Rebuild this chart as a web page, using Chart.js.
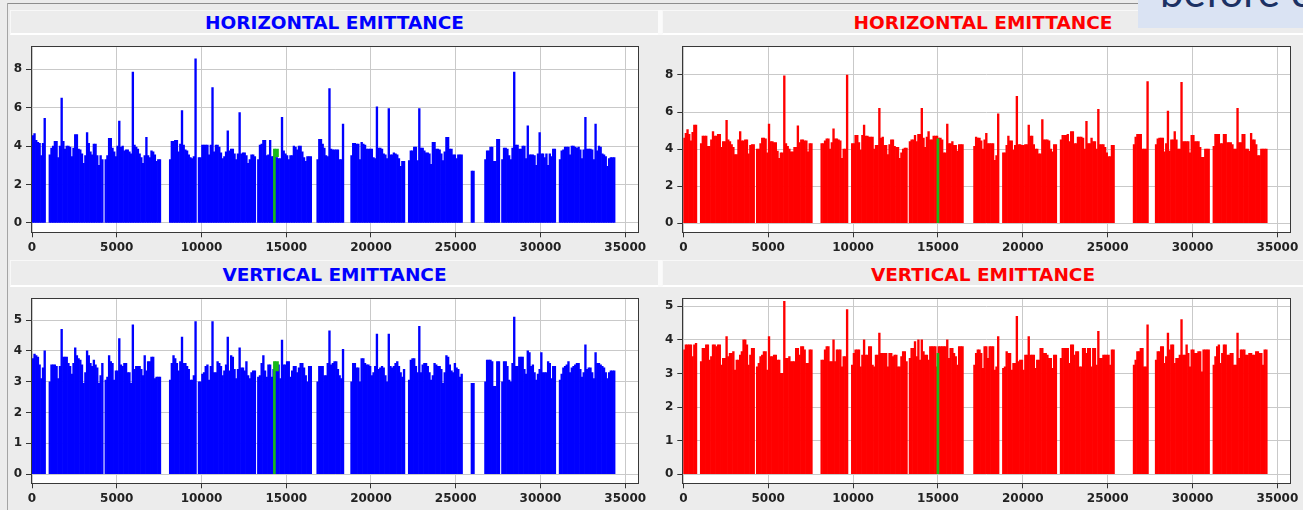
<!DOCTYPE html>
<html>
<head>
<meta charset="utf-8">
<title>Emittance per bunch</title>
<script src="https://cdn.jsdelivr.net/npm/chart.js@4.4.1/dist/chart.umd.min.js"></script>
<style>
  html, body { margin: 0; padding: 0; }
  body {
    width: 1303px; height: 510px; position: relative; overflow: hidden;
    background: #ececec; font-family: 'DejaVu Sans', sans-serif;
  }
  .frame-top { position: absolute; left: 7px; top: 3px; width: 1296px; height: 1px; background: #8e8e8e; }
  .frame-left { position: absolute; left: 7px; top: 3px; width: 1px; height: 507px; background: #a4a4a4; }
  .title {
    position: absolute; box-sizing: border-box; text-align: center;
    font-weight: bold; font-size: 18.5px; background: #ececec;
    border-top: 1px solid #f8f8f8; border-left: 1px solid #f8f8f8;
    border-bottom: 2px solid #ffffff;
  }
  .title.blue { color: #0000ff; }
  .title.red { color: #ff0000; }
  .sep { position: absolute; width: 4px; background: #fbfbfb; }
  canvas { position: absolute; }
  .note { position: absolute; left: 1138px; top: 0; width: 165px; height: 28px; background: #dae3f3; overflow: hidden; }
</style>
</head>
<body>
<div class="frame-top"></div>
<div class="frame-left"></div>

<div class="title blue" style="left:10px; top:10px; width:648px; height:25px; line-height:23px;">HORIZONTAL EMITTANCE</div>
<div class="title red" style="left:662px; top:10px; width:641px; height:25px; line-height:23px;">HORIZONTAL EMITTANCE</div>
<div class="sep" style="left:658px; top:10px; height:25px;"></div>
<div class="title blue" style="left:10px; top:260px; width:648px; height:27px; line-height:27px;">VERTICAL EMITTANCE</div>
<div class="title red" style="left:662px; top:260px; width:641px; height:27px; line-height:27px;">VERTICAL EMITTANCE</div>
<div class="sep" style="left:658px; top:260px; height:27px;"></div>

<canvas id="hBlue" width="652" height="224" style="left:0px; top:36px;"></canvas>
<canvas id="hRed" width="652" height="224" style="left:651px; top:36px;"></canvas>
<canvas id="vBlue" width="652" height="222" style="left:0px; top:288px;"></canvas>
<canvas id="vRed" width="652" height="222" style="left:651px; top:288px;"></canvas>

<div class="note">
  <svg width="165" height="28" xmlns="http://www.w3.org/2000/svg">
    <text x="22" y="7" font-family="Lato, 'Open Sans', sans-serif" font-size="42" fill="#1c3163">before c</text>
  </svg>
</div>

<script>
// Gap in the fill pattern (empty bunch slot)
const _ = null;

// Bunch slots are 100 units apart along the ring; value per slot, null = empty
const BUNCH_SPACING = 100;
const SLOT_COUNT = 344;

// Horizontal emittance, left (blue) display
const hEmittanceBlue = [
  4.55, 4.65, 4.3, 4.2, 4.15, 3.5, 4.15, 5.45, _, _,
  3.55, 3.9, 4.0, 4.25, 4.25, 3.4, 4.0, 6.5, 4.25, 3.85, 4.0, 4.0, 3.95, 3.45, 3.9, 4.6,
  4.6, 3.85, 3.8, 3.6, 3.1, 3.5, 4.7, 4.15, 3.7, 3.55, 4.1, 4.1, 3.5, 3.0, 3.5, 3.3, _,
  3.3, 3.5, 4.4, 4.4, 3.9, 3.7, 3.45, 4.0, 5.3, 3.95, 4.0, 3.75, 3.8, 3.8, 3.7, 3.6, 7.85,
  4.05, 3.95, 3.85, 3.6, 3.4, 3.1, 3.5, 4.45, 3.5, 3.4, 3.75, 3.7, 3.55, 3.2, 3.3, 3.3, _, _, _, _, _,
  3.3, 4.25, 4.25, 4.3, 4.3, 3.7, 4.1, 5.85, 4.05, 3.8, 3.75, 3.55, 3.4, 3.35, 3.45, 8.55, _,
  3.4, 3.4, 4.05, 4.05, 4.05, 4.05, 3.55, 4.05, 7.05, 3.7, 4.05, 4.05, 3.95, 3.65, 3.35, 3.45, 3.7,
  4.8, 3.75, 3.85, 3.85, 3.6, 3.3, 3.6, 5.75, 3.6, 3.65, 3.65, 3.5, 3.1, 3.3, 3.55, 3.55, 3.45, _,
  3.3, 4.05, 4.1, 4.3, 4.3, 3.5, 3.55, 4.3, 3.45, 3.45, 3.45, 3.4, 3.35, 3.35, 5.5, 3.75,
  3.6, 3.5, 3.3, 3.5, 3.5, 4.0, 3.95, 3.8, 4.0, 4.0, 3.7, 3.4, 3.2, 3.45, 3.45, 3.45, _, _, _,
  3.3, 4.35, 4.35, 4.1, 3.9, 3.5, 3.45, 7.0, 3.85, 3.8, 3.8, 3.8, 3.8, 3.3, 3.3, 5.15, _, _, _, _,
  3.5, 4.15, 4.15, 4.1, 4.1, 3.3, 4.2, 4.1, 4.05, 3.85, 3.85, 3.85, 3.85, 3.4, 3.35, 6.05,
  3.9, 3.9, 3.85, 3.6, 3.55, 3.35, 5.95, 3.55, 3.55, 3.65, 3.6, 3.55, 3.35, 2.95, 3.2, 3.2, _, _,
  3.25, 3.75, 3.75, 3.95, 3.95, 3.25, 5.95, 3.9, 3.9, 3.75, 3.65, 3.65, 3.6, 3.05, 4.2, 4.2,
  3.85, 3.85, 3.8, 3.6, 3.25, 3.7, 4.45, 4.45, 3.85, 3.85, 3.55, 3.55, 3.35, 3.55, 3.55, 3.55, _, _, _, _, _,
  2.7, 2.7, _, _, _, _, _, _,
  3.3, 3.75, 3.75, 3.95, 3.95, 3.2, 3.2, 4.35, 4.35, _,
  3.3, 3.9, 3.9, 3.85, 3.5, 3.3, 3.9, 7.85, 4.05, 4.05, 3.85, 3.85, 4.0, 4.0, 3.35, 5.05,
  3.55, 3.55, 3.55, 3.5, 3.0, 3.6, 4.7, 3.6, 3.6, 3.4, 3.6, 3.0, 3.6, 3.45, 3.85, 3.85, _, _,
  3.3, 3.75, 3.8, 3.95, 3.95, 3.95, 3.55, 4.0, 4.0, 3.95, 3.9, 3.95, 3.8, 3.35, 3.8, 5.5, 3.85,
  3.85, 3.85, 3.8, 3.3, 5.15, 3.75, 4.0, 3.95, 3.6, 3.55, 3.45, 2.95, 3.35, 3.4, 3.4, 3.4
];

// Vertical emittance, left (blue) display
const vEmittanceBlue = [
  3.75, 3.9, 3.85, 3.8, 3.55, 3.1, 3.45, 4.0, _, _,
  3.0, 3.55, 3.55, 3.55, 3.5, 3.1, 3.5, 4.7, 3.8, 3.8, 3.8, 3.6, 3.5, 3.25, 3.6, 4.1,
  3.85, 3.75, 3.7, 3.55, 2.95, 3.3, 4.0, 3.85, 3.6, 3.5, 3.7, 3.55, 3.45, 2.95, 3.2, 3.6, _,
  3.05, 3.15, 3.85, 3.65, 3.6, 3.05, 3.35, 3.35, 4.4, 3.55, 3.5, 3.6, 3.6, 3.3, 3.3, 2.95, 4.85,
  3.4, 3.5, 3.5, 3.5, 3.4, 3.2, 3.85, 3.35, 3.65, 3.65, 3.8, 3.8, 3.1, 3.15, 3.15, 3.15, _, _, _, _, _,
  3.05, 3.6, 3.85, 3.75, 3.6, 3.35, 3.65, 4.45, 3.6, 3.6, 3.5, 3.4, 3.05, 3.05, 3.2, 4.95, _,
  3.0, 3.0, 3.25, 3.3, 3.5, 3.55, 3.05, 3.5, 4.95, 3.3, 3.3, 3.65, 3.6, 3.5, 3.2, 3.35, 3.55,
  4.45, 3.35, 3.85, 3.8, 3.4, 3.1, 3.4, 4.1, 3.45, 3.45, 3.35, 3.65, 3.2, 3.1, 3.3, 3.35, 3.35, _,
  3.15, 3.2, 3.6, 3.85, 3.35, 3.15, 3.55, 3.55, 3.15, 3.4, 3.4, 3.55, 3.55, 3.1, 4.35, 3.55,
  3.55, 3.65, 3.65, 3.15, 3.35, 3.5, 3.5, 3.3, 3.45, 3.6, 3.6, 3.45, 3.2, 3.0, 3.5, 3.5, _, _, _,
  3.0, 3.5, 3.5, 3.5, 3.2, 3.2, 3.6, 4.65, 3.55, 3.6, 3.65, 3.65, 3.4, 3.2, 3.1, 4.05, _, _, _, _,
  3.0, 3.6, 3.6, 3.45, 3.45, 3.0, 3.75, 3.75, 3.6, 3.55, 3.55, 3.5, 3.2, 3.3, 3.5, 4.55,
  3.4, 3.45, 3.5, 3.45, 3.2, 3.0, 4.55, 3.5, 3.45, 3.5, 3.6, 3.65, 3.5, 3.3, 3.15, 3.4, _, _,
  3.05, 3.7, 3.75, 3.75, 3.5, 3.3, 4.8, 3.3, 3.55, 3.6, 3.6, 3.5, 3.3, 3.05, 3.2, 3.6,
  3.55, 3.5, 3.5, 3.4, 2.95, 3.3, 3.85, 3.8, 3.55, 3.35, 3.3, 3.6, 3.45, 3.4, 3.15, 3.25, _, _, _, _, _,
  2.95, 2.95, _, _, _, _, _, _,
  3.0, 3.7, 3.7, 3.7, 3.65, 2.85, 2.85, 3.65, 3.65, _,
  3.0, 3.65, 3.65, 3.5, 3.05, 3.0, 3.6, 5.1, 3.5, 3.5, 3.8, 3.8, 3.8, 3.4, 3.25, 4.0,
  3.95, 3.5, 3.55, 3.3, 3.05, 3.25, 3.4, 3.95, 3.3, 3.3, 3.3, 3.65, 3.6, 3.1, 3.5, 3.5, _, _,
  3.05, 3.25, 3.45, 3.5, 3.55, 3.65, 3.3, 3.45, 3.5, 3.55, 3.6, 3.6, 3.4, 3.15, 3.3, 4.2, 3.4,
  3.45, 3.45, 3.3, 3.1, 3.95, 3.6, 3.6, 3.55, 3.5, 3.45, 3.3, 3.1, 3.3, 3.35, 3.35, 3.35
];

// Horizontal emittance, right (red) display
const hEmittanceRed = [
  4.6, 4.85, 5.05, 4.8, 4.45, 4.9, 5.3, 5.3, _, _,
  4.3, 4.7, 4.7, 4.7, 4.15, 4.15, 4.5, 4.95, 4.7, 4.7, 4.8, 4.8, 4.1, 4.4, 4.4, 5.55,
  4.5, 4.4, 4.25, 4.1, 3.7, 3.7, 4.5, 4.95, 4.45, 4.45, 4.5, 4.5, 3.75, 4.2, 4.25, 4.25, _,
  4.0, 4.0, 4.3, 4.6, 4.6, 4.55, 3.8, 5.35, 4.4, 4.4, 4.35, 4.35, 3.9, 3.5, 3.8, 3.8, 7.95,
  4.3, 4.15, 4.0, 3.85, 3.85, 4.1, 4.1, 5.25, 4.35, 4.5, 4.5, 4.45, 4.45, 3.85, 4.3, 4.3, _, _, _, _, _,
  4.3, 4.3, 4.45, 4.55, 4.55, 4.0, 4.35, 5.1, 4.55, 4.55, 4.5, 4.45, 3.5, 4.0, 4.0, 8.0, _, _,
  4.3, 4.3, 4.75, 4.75, 4.35, 3.95, 4.75, 5.3, 4.7, 4.7, 4.65, 4.65, 4.65, 4.0, 4.2, 4.2, 6.2,
  4.6, 4.65, 4.2, 4.2, 3.7, 4.25, 4.5, 4.5, 4.15, 4.1, 4.1, 3.5, 3.8, 4.0, 4.05, 4.05, _,
  4.4, 4.5, 4.5, 4.75, 4.4, 4.8, 4.8, 6.2, 4.6, 4.1, 4.65, 4.95, 4.5, 4.5, 4.7, 4.7,
  4.7, 4.6, 4.6, 4.5, 3.8, 3.8, 5.35, 4.3, 4.3, 4.4, 4.2, 4.2, 3.9, 4.25, 4.25, 4.25, _, _, _, _, _, _,
  4.15, 4.65, 4.6, 4.6, 4.45, 4.0, 4.5, 4.85, 4.3, 4.3, 4.3, 4.3, 3.4, 3.65, 5.9, _, _,
  3.8, 3.8, 4.2, 4.7, 4.45, 4.45, 3.95, 4.2, 6.85, 4.25, 4.25, 4.2, 4.2, 4.25, 4.25, 5.3,
  4.7, 4.7, 4.25, 4.0, 4.0, 3.75, 3.75, 5.6, 4.5, 4.5, 4.5, 4.45, 4.0, 3.85, 4.25, 4.25, _, _,
  4.5, 4.75, 4.75, 4.75, 4.8, 4.4, 4.95, 4.95, 4.3, 4.3, 4.65, 4.65, 4.65, 4.6, 4.0, 5.5,
  4.3, 4.3, 4.6, 4.4, 4.4, 4.0, 6.15, 4.25, 4.25, 4.25, 4.1, 3.8, 3.6, 3.6, 4.2, 4.2,
  _, _, _, _, _, _, _, _, _, _, _,
  4.25, 4.65, 4.8, 4.8, 4.8, 4.0, 4.0, 4.0, 7.65, _, _, _, _,
  4.25, 4.55, 4.6, 4.6, 4.6, 3.85, 4.3, 6.05, 3.9, 4.5, 4.5, 4.95, 4.5, 4.0, 4.0, 7.6,
  4.4, 4.4, 4.4, 4.4, 3.8, 4.75, 4.75, 4.4, 4.4, 4.4, 4.1, 3.55, 3.55, 4.0, 4.0, 4.0, _, _,
  4.15, 4.8, 4.8, 4.8, 4.3, 4.3, 4.8, 4.8, 4.35, 4.35, 4.35, 4.25, 4.0, 4.0, 6.2, 4.35,
  4.35, 4.8, 4.8, 4.0, 4.0, 3.9, 4.85, 4.5, 4.5, 4.25, 3.65, 3.65, 4.0, 4.0, 4.0, 4.0
];

// Vertical emittance, right (red) display
const vEmittanceRed = [
  3.7, 3.85, 3.85, 3.85, 3.85, 3.5, 3.85, 3.9, _, _,
  3.35, 3.75, 3.75, 3.85, 3.85, 3.4, 3.5, 3.85, 3.85, 3.8, 3.85, 3.85, 3.25, 3.45, 3.45, 4.1,
  3.5, 3.6, 3.6, 3.65, 3.1, 3.4, 3.4, 3.55, 3.65, 4.0, 4.0, 3.85, 3.25, 3.55, 3.75, 3.75, _,
  3.2, 3.3, 3.5, 3.55, 3.65, 3.65, 3.1, 4.1, 3.5, 3.5, 3.55, 3.55, 3.4, 3.4, 3.0, 3.0, 5.15,
  3.45, 3.45, 3.5, 3.35, 3.35, 3.35, 3.75, 3.75, 3.55, 3.8, 3.8, 3.7, 3.3, 3.3, 3.7, 3.7, _, _, _, _, _,
  3.4, 3.4, 3.7, 3.8, 3.8, 3.35, 3.35, 4.0, 3.35, 3.7, 3.7, 3.7, 3.2, 3.5, 3.5, 4.9, _, _,
  3.25, 3.6, 3.7, 3.7, 3.7, 3.2, 3.55, 4.0, 3.55, 3.55, 3.8, 3.8, 3.25, 3.2, 3.55, 3.55, 4.2,
  3.6, 3.6, 3.6, 3.6, 3.2, 3.6, 3.6, 3.5, 3.55, 3.55, 3.2, 3.2, 3.5, 3.65, 3.65, 3.35, _,
  3.45, 3.75, 3.75, 3.95, 3.5, 4.0, 3.4, 4.0, 3.65, 3.55, 3.55, 3.4, 3.8, 3.8, 3.8, 3.8,
  3.2, 3.8, 3.8, 3.8, 3.8, 3.8, 4.0, 3.45, 3.75, 3.75, 3.6, 3.5, 3.25, 3.8, 3.8, 3.8, _, _, _, _, _, _,
  3.25, 3.6, 3.7, 3.7, 3.6, 3.15, 3.8, 3.8, 3.45, 3.8, 3.8, 3.8, 3.1, 3.2, 4.1, _, _,
  3.15, 3.2, 3.65, 3.6, 3.6, 3.1, 3.3, 3.3, 4.7, 3.35, 3.4, 3.4, 3.1, 3.55, 3.55, 4.1,
  3.55, 3.55, 3.55, 3.15, 3.4, 3.4, 3.75, 3.75, 3.6, 3.6, 3.55, 3.45, 3.45, 3.15, 3.55, 3.55, _, _,
  3.45, 3.75, 3.75, 3.75, 3.75, 3.3, 3.85, 3.85, 3.55, 3.65, 3.65, 3.2, 3.2, 3.75, 3.75, 3.6,
  3.75, 3.75, 3.2, 3.75, 3.75, 3.25, 4.25, 3.45, 3.45, 3.55, 3.55, 3.55, 3.55, 3.25, 3.7, 3.7,
  _, _, _, _, _, _, _, _, _, _, _,
  3.25, 3.4, 3.65, 3.65, 3.75, 3.75, 3.2, 3.2, 4.45, _, _, _, _,
  3.4, 3.65, 3.65, 3.8, 3.8, 3.3, 3.5, 4.2, 3.7, 3.85, 3.85, 3.3, 3.45, 3.45, 3.55, 4.6,
  3.55, 3.55, 3.85, 3.6, 3.2, 3.7, 3.7, 3.6, 3.6, 3.65, 3.65, 3.05, 3.7, 3.7, 3.7, 3.7, _, _,
  3.25, 3.5, 3.8, 3.85, 3.3, 3.6, 3.85, 3.85, 3.55, 3.55, 3.6, 3.6, 3.25, 3.25, 4.2, 3.45,
  3.7, 3.7, 3.7, 3.55, 3.55, 3.6, 3.6, 3.55, 3.55, 3.65, 3.65, 3.6, 3.6, 3.25, 3.7, 3.7
];

// Selected-bunch markers (green): bunch position, value, and the highlighted top segment
const blueMarkerBunch = 14300;
const blueMarkerCapBunch = 14440;
const blueMarkerH = [3.85, 3.45];   // [top, cap bottom]
const blueMarkerV = [3.65, 3.35];
const redMarkerBunch = 15000;
const redMarkerH = 4.55;
const redMarkerV = 3.6;

// Axis ticks
const xTicks = [0, 5000, 10000, 15000, 20000, 25000, 30000, 35000];
const yTicksH = [0, 2, 4, 6, 8];
const yTicksV = [0, 1, 2, 3, 4, 5];

const MARKER_GREEN = '#19b919';
const TICK_FONT = { family: "'DejaVu Sans', sans-serif", size: 12, weight: 'bold' };

[hEmittanceBlue, vEmittanceBlue, hEmittanceRed, vEmittanceRed].forEach((arr, k) => {
  if (arr.length !== SLOT_COUNT) throw new Error('series ' + k + ' has ' + arr.length + ' slots');
});

const bunchCentres = hEmittanceBlue.map((v, i) => i * BUNCH_SPACING + BUNCH_SPACING / 2);

// White plot background and dark frame around the plot area
const plotFrame = {
  id: 'plotFrame',
  beforeDraw(chart) {
    const { ctx, chartArea: a } = chart;
    ctx.save();
    ctx.fillStyle = '#ffffff';
    ctx.fillRect(a.left, a.top, a.right - a.left, a.bottom - a.top);
    ctx.restore();
  },
  afterDatasetsDraw(chart) {
    const { ctx, chartArea: a } = chart;
    ctx.save();
    ctx.strokeStyle = '#383838';
    ctx.lineWidth = 1;
    ctx.strokeRect(Math.round(a.left) - 0.5, Math.round(a.top) - 0.5,
                   Math.round(a.right) - Math.round(a.left) + 1, Math.round(a.bottom) - Math.round(a.top) + 1);
    ctx.restore();
  }
};

function buildPanel(cfg) {
  const bars = cfg.values
    .map((v, i) => ({ x: bunchCentres[i], y: v }))
    .filter(p => p.y !== null);

  const datasets = [
    { data: bars, backgroundColor: cfg.color, borderWidth: 0, grouped: false,
      barPercentage: 1, categoryPercentage: 1, xAxisID: 'x', yAxisID: 'y', order: 3 },
    { data: [{ x: cfg.marker.x, y: cfg.marker.top }], backgroundColor: MARKER_GREEN, borderWidth: 0,
      grouped: false, barThickness: 2, xAxisID: 'xm', yAxisID: 'y', order: 1 }
  ];
  if (cfg.marker.cap) {
    datasets.push({ data: [{ x: cfg.marker.cap.x, y: cfg.marker.cap.range }], backgroundColor: MARKER_GREEN,
      borderWidth: 0, grouped: false, barThickness: 3.5, xAxisID: 'xm', yAxisID: 'y', order: 0 });
  }

  return new Chart(document.getElementById(cfg.id), {
    type: 'bar',
    data: { datasets },
    options: {
      responsive: false,
      animation: false,
      events: [],
      layout: { padding: { top: cfg.padTop, right: cfg.padRight, bottom: 0, left: 0 } },
      plugins: { legend: { display: false }, tooltip: { enabled: false }, title: { display: false } },
      scales: {
        x: {
          type: 'linear', min: 0, max: cfg.xMax, offset: false,
          grid: { offset: false, color: '#c9c9c9', lineWidth: 1, drawTicks: true, tickLength: 5,
                  tickColor: '#333333', tickWidth: 1 },
          border: { display: false },
          ticks: { font: TICK_FONT, color: '#222222', padding: 3, maxRotation: 0, autoSkip: false,
                   callback: (v) => String(v) },
          afterBuildTicks: (axis) => { axis.ticks = xTicks.map(v => ({ value: v })); },
          afterFit: (axis) => { axis.height = cfg.xAxisHeight; }
        },
        xm: { type: 'linear', min: 0, max: cfg.xMax, offset: false, display: false },
        y: {
          type: 'linear', min: cfg.yRange[0], max: cfg.yRange[1],
          grid: { color: '#c9c9c9', lineWidth: 1, drawTicks: true, tickLength: 6,
                  tickColor: '#333333', tickWidth: 1 },
          border: { display: false },
          ticks: { font: TICK_FONT, color: '#222222', padding: 4, callback: (v) => String(v) },
          afterBuildTicks: (axis) => { axis.ticks = cfg.yTicks.map(v => ({ value: v })); },
          afterFit: (axis) => { axis.width = cfg.yAxisWidth; }
        }
      }
    },
    plugins: [plotFrame]
  });
}

buildPanel({
  id: 'hBlue', values: hEmittanceBlue, color: '#0000ff',
  yRange: [-0.49, 9.15], yTicks: yTicksH, xMax: 35770,
  padTop: 8, padRight: 13.7, yAxisWidth: 32, xAxisHeight: 27.7,
  marker: { x: blueMarkerBunch, top: blueMarkerH[0],
            cap: { x: blueMarkerCapBunch, range: [blueMarkerH[1], blueMarkerH[0]] } }
});
buildPanel({
  id: 'hRed', values: hEmittanceRed, color: '#ff0000',
  yRange: [-0.49, 9.5], yTicks: yTicksH, xMax: 35740,
  padTop: 8, padRight: 13, yAxisWidth: 32.3, xAxisHeight: 27.7,
  marker: { x: redMarkerBunch, top: redMarkerH }
});
buildPanel({
  id: 'vBlue', values: vEmittanceBlue, color: '#0000ff',
  yRange: [-0.3, 5.68], yTicks: yTicksV, xMax: 35770,
  padTop: 8, padRight: 13.7, yAxisWidth: 32, xAxisHeight: 26.7,
  marker: { x: blueMarkerBunch, top: blueMarkerV[0],
            cap: { x: blueMarkerCapBunch, range: [blueMarkerV[1], blueMarkerV[0]] } }
});
buildPanel({
  id: 'vRed', values: vEmittanceRed, color: '#ff0000',
  yRange: [-0.27, 5.21], yTicks: yTicksV, xMax: 35740,
  padTop: 8, padRight: 13, yAxisWidth: 32.3, xAxisHeight: 26.7,
  marker: { x: redMarkerBunch, top: redMarkerV }
});
</script>
</body>
</html>
